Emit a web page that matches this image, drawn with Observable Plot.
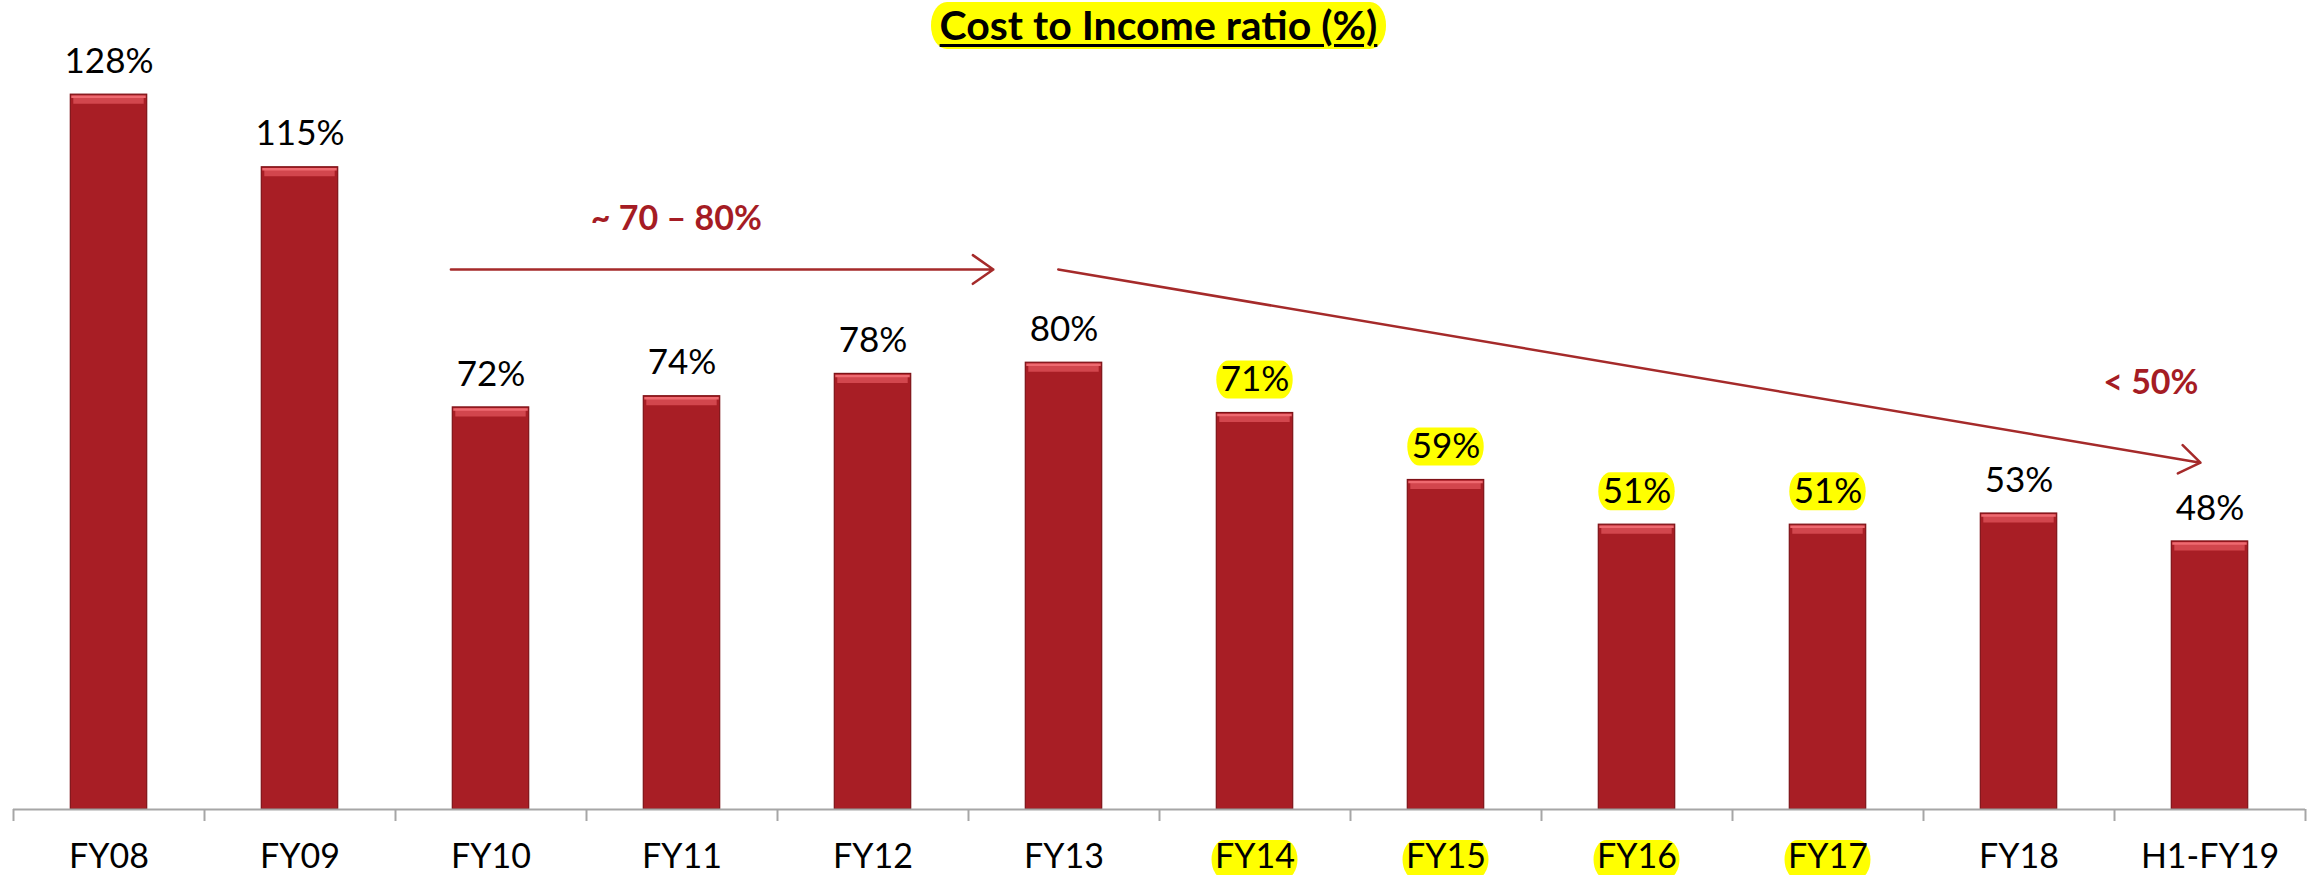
<!DOCTYPE html>
<html>
<head>
<meta charset="utf-8">
<script src="https://cdn.jsdelivr.net/npm/d3@7"></script>
<script src="https://cdn.jsdelivr.net/npm/@observablehq/plot@0.6"></script>
<style>
  html, body { margin: 0; padding: 0; background: #fff; }
  #title { height: 50px; width: 2315px; text-align: center; position: relative; }
  #title span {
    display: inline-block; margin-top: 2px; height: 47px; line-height: 45px;
    padding: 0 9px; margin-left: 2px; background: #FFFF00; border-radius: 16px / 23px;
    font-family: Lato, "Open Sans", sans-serif; font-weight: 700; font-size: 41px;
    text-decoration: underline; text-decoration-thickness: 3px; text-underline-offset: 4px;
    color: #000;
  }
</style>
</head>
<body>
<div id="title"><span>Cost to Income ratio (%)</span></div>
<div id="chart"></div>
<script>
// ---- data ----
const categories = ["FY08","FY09","FY10","FY11","FY12","FY13","FY14","FY15","FY16","FY17","FY18","H1-FY19"];
const values = [128, 115, 72, 74, 78, 80, 71, 59, 51, 51, 53, 48];
const highlighted = ["FY14","FY15","FY16","FY17"];

// trend annotations (x in category-index units, y in %)
const arrowX1 = [1.79, 4.97];
const arrowX2 = [4.63, 10.95];
const arrowY1 = [96.7, 96.7];
const arrowY2 = [96.7, 62.1];
const noteText = ["~ 70 \u2013 80%", "< 50%"];
const noteX = [2.97, 10.69];
const noteY = [105.7, 76.4];

// ---- build tables ----
const HALF = 0.2;
const bars = categories.map((c, i) => ({cat: c, i, v: values[i], label: values[i] + "%", hi: highlighted.includes(c)}));
const hiBars = bars.filter(d => d.hi);
const boundaries = d3.range(categories.length + 1).map(k => k - 0.5);
const arrows = arrowX1.map((x, k) => ({x1: x, x2: arrowX2[k], y1: arrowY1[k], y2: arrowY2[k]}));
const notes = noteText.map((t, k) => ({t, x: noteX[k], y: noteY[k]}));

const RED = "#A81E25";
const FONT = "Lato, 'Open Sans', sans-serif";

const chart = Plot.plot({
  width: 2315,
  height: 825,
  marginLeft: 13,
  marginRight: 10,
  marginTop: 33,
  marginBottom: 66,
  style: {overflow: "visible", background: "transparent", fontFamily: FONT},
  x: {domain: [-0.5, categories.length - 0.5], axis: null},
  y: {domain: [0, 130], axis: null},
  marks: [
    // bars
    Plot.rect(bars, {x1: d => d.i - HALF, x2: d => d.i + HALF, y1: 0, y2: "v",
      fill: RED, stroke: "#7E1217", strokeWidth: 1.2, ariaLabel: "bars"}),
    // bevel highlight on top of each bar
    Plot.ruleY(bars, {x1: d => d.i - HALF, x2: d => d.i + HALF, y: "v", dy: 5,
      stroke: "#D2464D", strokeWidth: 8, insetLeft: 3, insetRight: 3}),
    Plot.ruleY(bars, {x1: d => d.i - HALF, x2: d => d.i + HALF, y: "v", dy: 2,
      stroke: "#EE6A70", strokeWidth: 2.5, insetLeft: 1, insetRight: 1}),
    // axis line + ticks
    Plot.ruleY([0], {stroke: "#A6A6A6", strokeWidth: 2}),
    Plot.ruleX(boundaries, {x: d => d, y1: 0, y2: 0, insetBottom: -12, stroke: "#A6A6A6", strokeWidth: 2}),
    // highlight behind data labels
    Plot.rect(hiBars, {x1: d => d.i - HALF, x2: d => d.i + HALF, y1: "v", y2: "v",
      insetTop: -52, insetBottom: 14, fill: "#FFFF00", rx: 12, ry: 19}),
    // data labels
    Plot.text(bars, {x: "i", y: "v", text: "label", dy: -33, lineAnchor: "middle",
      fontSize: 35, fill: "#000", fontFamily: FONT}),
    // highlight behind x labels
    Plot.rect(hiBars, {x1: d => d.i - 0.225, x2: d => d.i + 0.225, y1: 0, y2: 0,
      insetTop: 31, insetBottom: -70, fill: "#FFFF00", rx: 13, ry: 20}),
    // x labels
    Plot.text(bars, {x: "i", y: 0, text: "cat", dy: 48, lineAnchor: "middle",
      fontSize: 34, fill: "#000", fontFamily: FONT}),
    // trend arrows
    Plot.arrow(arrows, {x1: "x1", y1: "y1", x2: "x2", y2: "y2", stroke: "#A52A2A",
      strokeWidth: 2.5, headLength: 15, headAngle: 70}),
    Plot.text(notes, {x: "x", y: "y", text: "t", fill: "#A51C24", fontWeight: "bold",
      fontSize: 34, lineAnchor: "middle", fontFamily: FONT})
  ]
});

const g = chart.querySelector('g[aria-label="bars"]');
if (g) g.style.filter = "drop-shadow(2px 1px 2px rgba(0,0,0,0.35))";
document.getElementById("chart").appendChild(chart);
</script>
</body>
</html>
